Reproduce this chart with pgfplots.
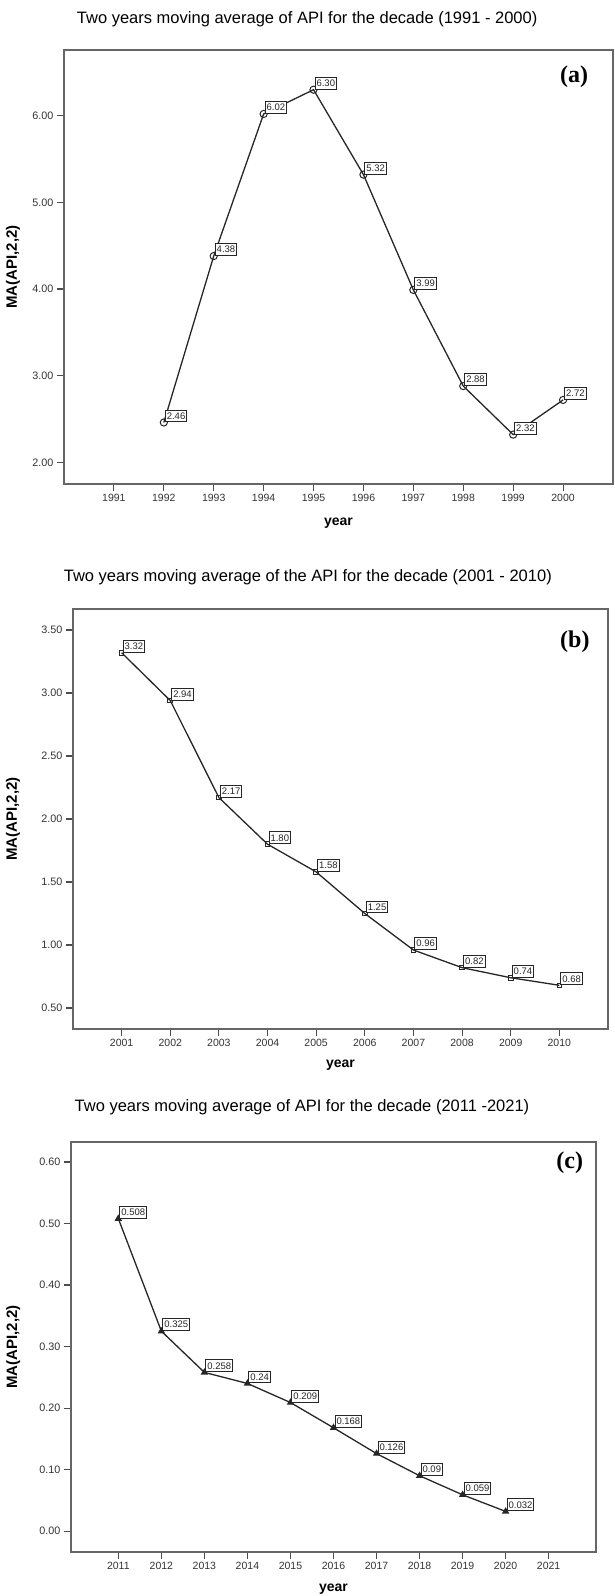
\documentclass[border=0pt]{standalone}
\usepackage{fontspec}
\setmainfont{Liberation Sans}
\newfontfamily\serifbf{Liberation Serif}
\usepackage{pgfplots}
\usepackage{pgfplotstable}
\pgfplotsset{compat=1.18}

\pgfplotstableread{
year val lab
1992 2.46 2.46
1993 4.38 4.38
1994 6.02 6.02
1995 6.30 6.30
1996 5.32 5.32
1997 3.99 3.99
1998 2.88 2.88
1999 2.32 2.32
2000 2.72 2.72
}\dataA

\pgfplotstableread{
year val lab
2001 3.32 3.32
2002 2.94 2.94
2003 2.17 2.17
2004 1.80 1.80
2005 1.58 1.58
2006 1.25 1.25
2007 0.96 0.96
2008 0.82 0.82
2009 0.74 0.74
2010 0.68 0.68
}\dataB

\pgfplotstableread{
year val lab
2011 0.508 0.508
2012 0.325 0.325
2013 0.258 0.258
2014 0.24 0.24
2015 0.209 0.209
2016 0.168 0.168
2017 0.126 0.126
2018 0.09 0.09
2019 0.059 0.059
2020 0.032 0.032
}\dataC

\pgfplotsset{
  spss/.style={
    scale only axis,
    axis line style={draw=black!60, line width=1.2pt},
    every tick/.style={draw=black!70, line width=1.1pt},
    tick align=outside,
    major tick length=7pt,
    tick pos=left,
    tick label style={font=\fontsize{10.5}{12}\selectfont, text=black!80},
    yticklabel style={font=\fontsize{10.8}{12}\selectfont},
    /pgf/number format/assume math mode=true,
    yticklabel style={/pgf/number format/.cd, fixed, fixed zerofill, precision=2},
    xticklabel style={/pgf/number format/1000 sep={}},
    xlabel={year},
    ylabel={MA(API,2,2)},
    xlabel style={font=\bfseries\fontsize{14}{16}\selectfont},
    ylabel style={font=\bfseries\fontsize{15}{17}\selectfont},
    title style={font=\fontsize{16.5}{19}\selectfont, anchor=center},
    clip=false,
  },
  lbl/.style={
    nodes near coords, point meta=explicit symbolic,
    every node near coord/.append style={anchor=south west, draw=black!85, fill=white,
      font=\fontsize{9.5}{10}\selectfont, inner xsep=1.5pt, inner ysep=2.6pt,
      line width=1pt, xshift=1pt, text=black!85},
  },
}

\begin{document}
\begin{tikzpicture}[x=1pt,y=1pt]
\useasboundingbox (0,0) rectangle (614,-1596);

% ---------- (a)
\begin{axis}[spss, at={(64pt,-484pt)}, anchor=south west,
  width=549pt, height=434pt,
  xmin=1990, xmax=2001, ymin=1.75, ymax=6.758,
  xtick={1991,...,2000}, ytick={2,3,4,5,6},
  title={Two years moving average of API for the decade (1991 - 2000)},
  title style={at={(axis description cs:0.443,1.0576)}},
  xlabel style={at={(axis description cs:0.5,-0.0899)}, anchor=center},
  ylabel style={at={(axis description cs:-0.093,0.5)}, anchor=center},
]
\addplot[color=black!85, line width=1.3pt, mark=o, mark size=3.6pt,
  mark options={solid, line width=1pt}, lbl]
  table[x=year, y=val, meta=lab] {\dataA};
\node[font=\serifbf\bfseries\fontsize{24}{24}\selectfont] at (rel axis cs:0.929,0.938) {(a)};
\end{axis}

% ---------- (b)
\begin{axis}[spss, at={(73pt,-1029pt)}, anchor=south west,
  width=535pt, height=420pt,
  xmin=2000, xmax=2011, ymin=0.333, ymax=3.667,
  xtick={2001,...,2010}, ytick={0.5,1,1.5,2,2.5,3,3.5},
  title={Two years moving average of the API for the decade (2001 - 2010)},
  title style={at={(axis description cs:0.439,1.062)}},
  xlabel style={at={(axis description cs:0.5,-0.0857)}, anchor=center},
  ylabel style={at={(axis description cs:-0.112,0.5)}, anchor=center},
]
\addplot[color=black!85, line width=1.3pt, mark=square, mark size=2.3pt,
  mark options={solid, line width=1pt}, lbl]
  table[x=year, y=val, meta=lab] {\dataB};
\node[font=\serifbf\bfseries\fontsize{24}{24}\selectfont] at (rel axis cs:0.938,0.921) {(b)};
\end{axis}

% ---------- (c)
\begin{axis}[spss, at={(71pt,-1552pt)}, anchor=south west,
  width=525pt, height=410pt,
  xmin=2009.9, xmax=2022.1, ymin=-0.034, ymax=0.6325,
  xtick={2011,...,2021}, ytick={0,0.1,0.2,0.3,0.4,0.5,0.6},
  title={Two years moving average of API for the decade (2011 -2021)},
  title style={at={(axis description cs:0.44,1.0707)}},
  xlabel style={at={(axis description cs:0.5,-0.0902)}, anchor=center},
  ylabel style={at={(axis description cs:-0.110,0.5)}, anchor=center},
]
\addplot[color=black!85, line width=1.3pt, mark=triangle*, mark size=3pt,
  mark options={solid}, lbl]
  table[x=year, y=val, meta=lab] {\dataC};
\node[font=\serifbf\bfseries\fontsize{24}{24}\selectfont] at (rel axis cs:0.950,0.949) {(c)};
\end{axis}
\end{tikzpicture}
\end{document}
